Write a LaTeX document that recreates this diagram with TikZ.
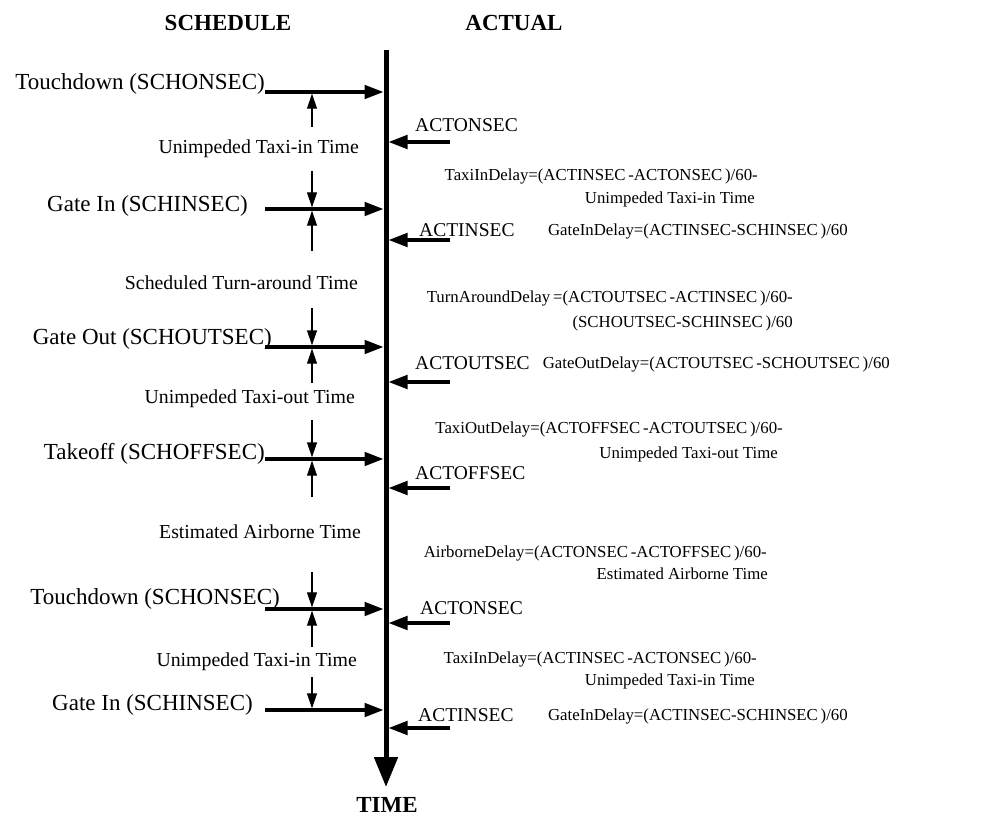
\documentclass[tikz,border=0pt]{standalone}
\usepackage{fontspec}
\setmainfont{Liberation Serif}
\usetikzlibrary{arrows.meta, positioning}

\tikzset{
    head/.style={inner sep=0pt, font=\fontsize{23}{27}\selectfont\bfseries},
    schedtext/.style={inner sep=0pt, font=\fontsize{23}{27}\selectfont},
    spantext/.style={inner sep=0pt, font=\fontsize{19.8}{23}\selectfont},
    acttext/.style={inner sep=0pt, font=\fontsize{19.5}{23}\selectfont},
    formula/.style={inner sep=0pt, font=\fontsize{16.8}{20}\selectfont},
    timeaxis/.style={line width=5pt, -{Triangle[length=30pt,width=23pt]}},
    eventarrow/.style={line width=3.4pt, shorten >=2.5pt, -{Triangle[length=19pt,width=13.5pt]}},
    spanarrow/.style={line width=1.2pt, shorten >=1.7pt, -{Triangle[length=15pt,width=10pt]}}
}

\begin{document}
\begin{tikzpicture}[x=1pt, y=-1pt]
                        \useasboundingbox (0,0) rectangle (982,829);

                        \node[head, anchor=base] (schedule) at (228,30.6) {SCHEDULE};
                        \node[head, anchor=base] (actual) at (514,30.6) {ACTUAL};
                        \node[head, anchor=base] (time) at (387,812.6) {TIME};

                        \coordinate (axtop) at (386,50);
                        \coordinate (axbot) at (386,787);
                        \draw[timeaxis] (axtop) -- (axbot);

                        % schedule side
                        \coordinate (s1) at (265,92);
                        \coordinate (s2) at (265,209);
                        \coordinate (s3) at (265,347);
                        \coordinate (s4) at (265,459);
                        \coordinate (s5) at (265,609);
                        \coordinate (s6) at (265,710);
                        \draw[eventarrow] (s1) -- (s1 -| axtop);
                        \draw[eventarrow] (s2) -- (s2 -| axtop);
                        \draw[eventarrow] (s3) -- (s3 -| axtop);
                        \draw[eventarrow] (s4) -- (s4 -| axtop);
                        \draw[eventarrow] (s5) -- (s5 -| axtop);
                        \draw[eventarrow] (s6) -- (s6 -| axtop);

                        \node[schedtext, anchor=base east] (sl1) at (265,90) {Touchdown (SCHONSEC)};
                        \node[schedtext, anchor=base east] (sl2) at (248,211.6) {Gate In (SCHINSEC)};
                        \node[schedtext, anchor=base east] (sl3) at (272,344.6) {Gate Out (SCHOUTSEC)};
                        \node[schedtext, anchor=base east] (sl4) at (265,459) {Takeoff (SCHOFFSEC)};
                        \node[schedtext, anchor=base east] (sl5) at (280,604.6) {Touchdown (SCHONSEC)};
                        \node[schedtext, anchor=base east] (sl6) at (253,710.6) {Gate In (SCHINSEC)};

                        \coordinate (d1) at (312,127);
                        \coordinate (d2) at (312,171);
                        \coordinate (d3) at (312,251);
                        \coordinate (d4) at (312,308);
                        \coordinate (d5) at (312,383);
                        \coordinate (d6) at (312,420);
                        \coordinate (d7) at (312,497);
                        \coordinate (d8) at (312,572);
                        \coordinate (d9) at (312,647);
                        \coordinate (d10) at (312,677);
                        \draw[spanarrow] (d1) -- (d1 |- s1);
                        \draw[spanarrow] (d2) -- (d2 |- s2);
                        \draw[spanarrow] (d3) -- (d3 |- s2);
                        \draw[spanarrow] (d4) -- (d4 |- s3);
                        \draw[spanarrow] (d5) -- (d5 |- s3);
                        \draw[spanarrow] (d6) -- (d6 |- s4);
                        \draw[spanarrow] (d7) -- (d7 |- s4);
                        \draw[spanarrow] (d8) -- (d8 |- s5);
                        \draw[spanarrow] (d9) -- (d9 |- s5);
                        \draw[spanarrow] (d10) -- (d10 |- s6);

                        \node[spantext, anchor=base east] (span1) at (359,153.5) {Unimpeded Taxi-in Time};
                        \node[spantext, anchor=base east] (span2) at (358,289.5) {Scheduled Turn-around Time};
                        \node[spantext, anchor=base east] (span3) at (355,403.5) {Unimpeded Taxi-out Time};
                        \node[spantext, anchor=base east] (span4) at (361,538.5) {Estimated Airborne Time};
                        \node[spantext, anchor=base east] (span5) at (357,666.5) {Unimpeded Taxi-in Time};

                        % actual side
                        \coordinate (a1) at (450,142);
                        \coordinate (a2) at (450,240);
                        \coordinate (a3) at (450,382);
                        \coordinate (a4) at (450,488);
                        \coordinate (a5) at (450,623);
                        \coordinate (a6) at (450,728);
                        \draw[eventarrow] (a1) -- (a1 -| axtop);
                        \draw[eventarrow] (a2) -- (a2 -| axtop);
                        \draw[eventarrow] (a3) -- (a3 -| axtop);
                        \draw[eventarrow] (a4) -- (a4 -| axtop);
                        \draw[eventarrow] (a5) -- (a5 -| axtop);
                        \draw[eventarrow] (a6) -- (a6 -| axtop);

                        \node[acttext, anchor=base west] (al1) at (415,131.5) {ACTONSEC};
                        \node[acttext, anchor=base west] (al2) at (419,236.5) {ACTINSEC};
                        \node[acttext, anchor=base west] (al3) at (415,369.5) {ACTOUTSEC};
                        \node[acttext, anchor=base west] (al4) at (415,479.5) {ACTOFFSEC};
                        \node[acttext, anchor=base west] (al5) at (420,614.5) {ACTONSEC};
                        \node[acttext, anchor=base west] (al6) at (418,721.5) {ACTINSEC};

                        % delays
                        \node[formula, anchor=base east] (taxiin1) at (758,180.6) {TaxiInDelay=(ACTINSEC\,-ACTONSEC\,)/60-};
                        \node[formula, anchor=base east] (taxiin1b) at (755,203.6) {Unimpeded Taxi-in Time};
                        \node[formula, anchor=base east] (gatein1) at (848,235.6) {GateInDelay=(ACTINSEC-SCHINSEC\,)/60};
                        \node[formula, anchor=base east] (turn) at (793,302.6) {TurnAroundDelay\,=(ACTOUTSEC\,-ACTINSEC\,)/60-};
                        \node[formula, anchor=base east] (turnb) at (793,327.6) {(SCHOUTSEC-SCHINSEC\,)/60};
                        \node[formula, anchor=base east] (gateout) at (890,368.6) {GateOutDelay=(ACTOUTSEC\,-SCHOUTSEC\,)/60};
                        \node[formula, anchor=base east] (taxiout) at (783,433.6) {TaxiOutDelay=(ACTOFFSEC\,-ACTOUTSEC\,)/60-};
                        \node[formula, anchor=base east] (taxioutb) at (778,458.6) {Unimpeded Taxi-out Time};
                        \node[formula, anchor=base east] (air) at (767,557.6) {AirborneDelay=(ACTONSEC\,-ACTOFFSEC\,)/60-};
                        \node[formula, anchor=base east] (airb) at (768,579.6) {Estimated Airborne Time};
                        \node[formula, anchor=base east] (taxiin2) at (757,663.6) {TaxiInDelay=(ACTINSEC\,-ACTONSEC\,)/60-};
                        \node[formula, anchor=base east] (taxiin2b) at (755,685.6) {Unimpeded Taxi-in Time};
                        \node[formula, anchor=base east] (gatein2) at (848,720.6) {GateInDelay=(ACTINSEC-SCHINSEC\,)/60};
                    \end{tikzpicture}
\end{document}
